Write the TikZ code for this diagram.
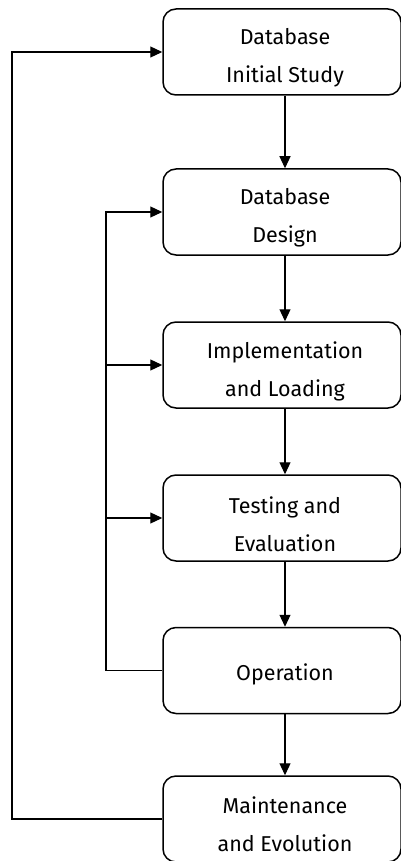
\documentclass[tikz,border=0pt]{standalone}
\usepackage{fontspec}
\setmainfont{Fira Sans}
\usetikzlibrary{arrows.meta}
\begin{document}
\begin{tikzpicture}[x=1pt,y=1pt,
  stage/.style={draw, line width=1.5pt, rounded corners=13pt,
    minimum width=238pt, minimum height=86pt, inner sep=0pt},
  caption/.style={align=center, inner sep=0pt,
    font=\fontsize{21.5}{38}\selectfont},
  flow/.style={line width=1.2pt, -{Triangle[width=11pt,length=12pt]}}
]
\useasboundingbox (0,0) rectangle (401,-861);
\begin{scope}
\clip (0,0) rectangle (401,-861);
% stage boxes
\node[stage] (s1) at (282,-52)    {};
\node[stage] (s2) at (282,-212)   {};
\node[stage] (s3) at (282,-365)   {};
\node[stage] (s4) at (282,-518)   {};
\node[stage] (s5) at (282,-670.5) {};
\node[stage] (s6) at (282,-819)   {};

% stage titles
\node[caption] (t1) at ([xshift=3pt,yshift=-6pt]s1.center) {Database\\Initial Study};
\node[caption] (t2) at ([xshift=3pt,yshift=-6pt]s2.center) {Database\\Design};
\node[caption] (t3) at ([xshift=3pt,yshift=-6pt]s3.center) {Implementation\\and Loading};
\node[caption] (t4) at ([xshift=3pt,yshift=-6pt]s4.center) {Testing and\\Evaluation};
\node[caption] (t5) at ([xshift=3pt,yshift=-4pt]s5.center) {Operation};
\node[caption] (t6) at ([xshift=3pt,yshift=-5pt]s6.center) {Maintenance\\and Evolution};

% main sequence
\foreach \a/\b in {s1/s2,s2/s3,s3/s4,s4/s5,s5/s6}
  \draw[flow] ([xshift=3pt]\a.south) -- ([xshift=3pt]\b.north);

% outer feedback from maintenance to initial study
\coordinate (outer) at (12,0);
\draw[flow] (s6.west) -| (outer |- s6.west) |- (s1.west);

% inner feedback from operation to earlier stages
\coordinate (inner) at (106,0);
\draw[flow] (s5.west) -- (inner |- s5.west) |- (s2.west);
\draw[flow] (inner |- s3.west) -- (s3.west);
\draw[flow] (inner |- s4.west) -- (s4.west);
\end{scope}
\end{tikzpicture}
\end{document}
